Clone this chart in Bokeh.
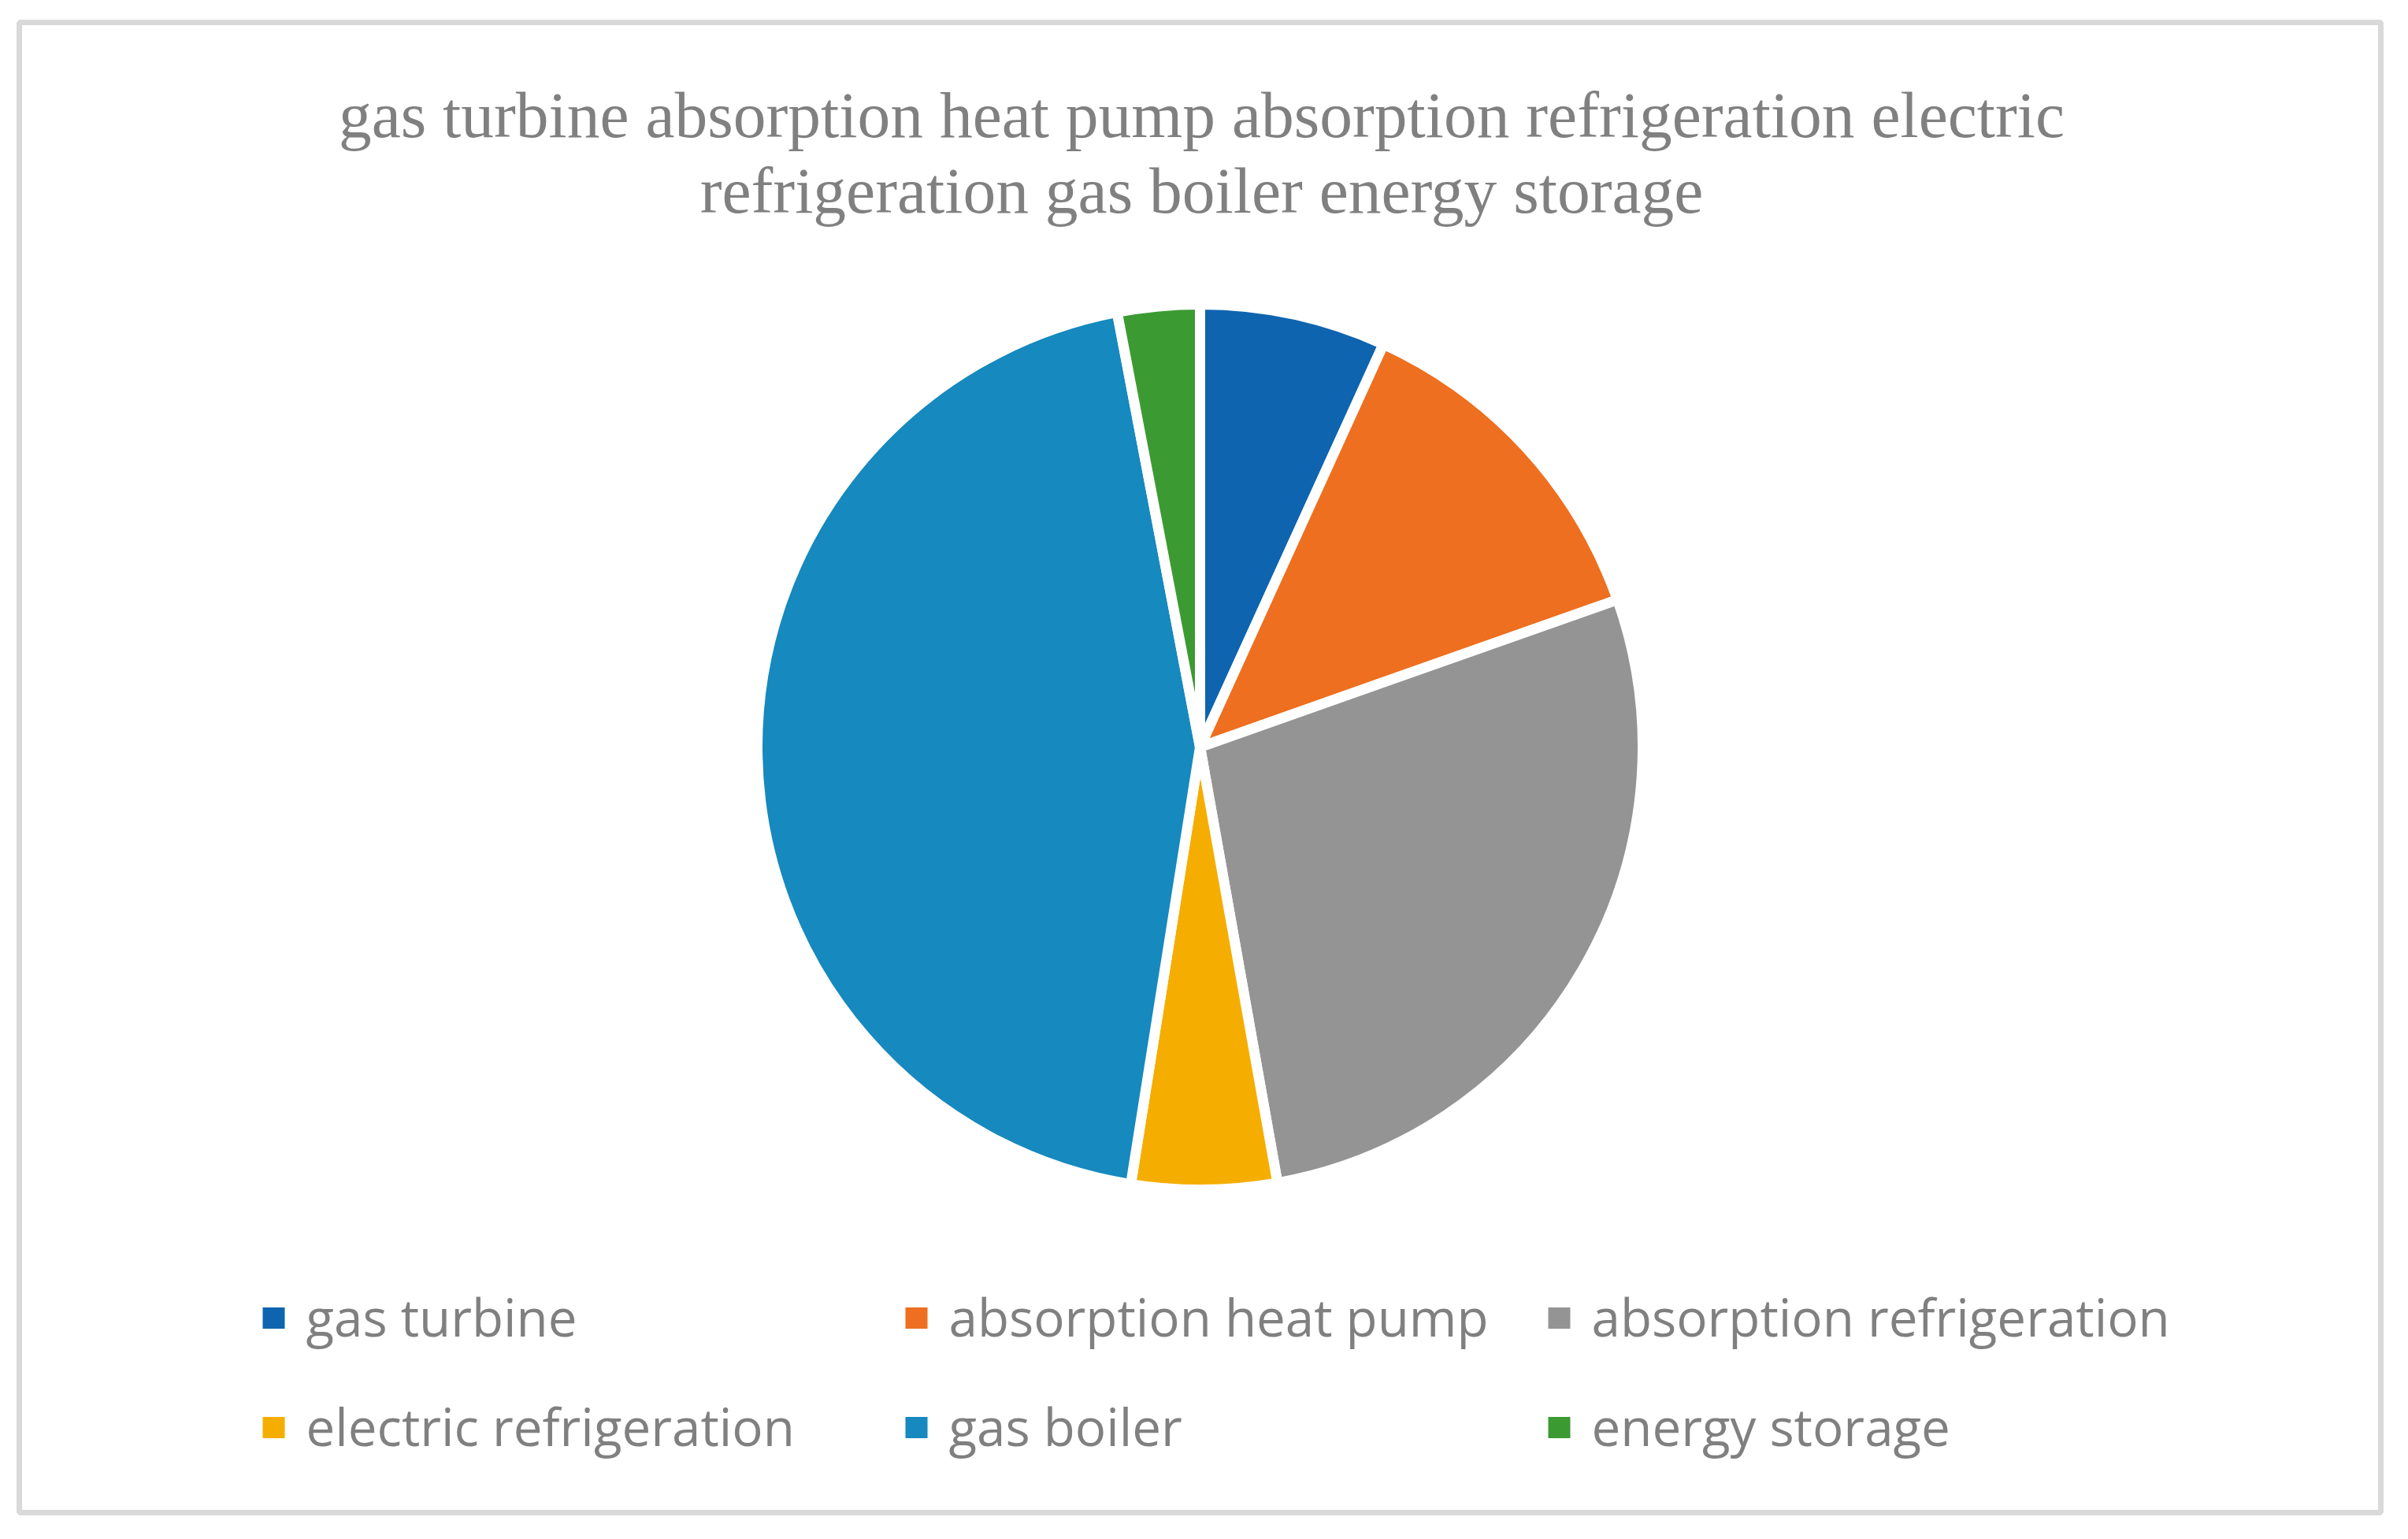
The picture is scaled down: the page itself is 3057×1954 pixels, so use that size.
import math
from bokeh.plotting import figure
from bokeh.models import ColumnDataSource, Range1d
from bokeh.core.properties import value
from bokeh.embed import file_html
from bokeh.resources import INLINE

# ---- data ----
categories = ["gas turbine", "absorption heat pump", "absorption refrigeration",
              "electric refrigeration", "gas boiler", "energy storage"]
shares = [6.8, 12.8, 27.6, 5.3, 44.5, 3.0]
colors = ["#0F64AF", "#EE6F1F", "#949494", "#F5AD00", "#1689BE", "#3C9A33"]

# ---- layout (page pixel coordinates) ----
PAGE_H = 1954
def Y(py):
    return PAGE_H - py

FRAME_L, FRAME_R, FRAME_T, FRAME_B = 24, 3022, 28, 1920
CX, CY, R = 1523, 948, 562
TEXT_GRAY = "#808080"
BASE_FIX_TITLE = 22   # svg baseline correction
BASE_FIX_LEG = 23

p = figure(frame_width=FRAME_R - FRAME_L, frame_height=FRAME_B - FRAME_T,
           min_border_left=24, min_border_right=16, min_border_top=28, min_border_bottom=16,
           x_range=Range1d(FRAME_L, FRAME_R), y_range=Range1d(Y(FRAME_B), Y(FRAME_T)),
           x_axis_location=None, y_axis_location=None,
           toolbar_location=None, output_backend="svg", tools="")
p.grid.visible = False
p.outline_line_color = "#D9D9D9"
p.outline_line_width = 7
p.background_fill_color = "white"
p.border_fill_color = "white"

# ---- pie ----
total = sum(shares)
starts, ends = [], []
acc = 0.0
for s in shares:
    starts.append(math.pi / 2 - 2 * math.pi * acc / total)
    acc += s
    ends.append(math.pi / 2 - 2 * math.pi * acc / total)

src = ColumnDataSource(dict(cat=categories, share=shares, color=colors,
                            start=starts, end=ends,
                            x=[CX] * len(shares), y=[Y(CY)] * len(shares)))
p.wedge(x="x", y="y", radius=R, radius_units="screen",
        start_angle="start", end_angle="end", direction="clock",
        fill_color="color", line_color="white", line_width=13, source=src)

# ---- title ----
words = " ".join(categories).split()
title_lines = [" ".join(words[:8]), " ".join(words[8:])]
tsrc = ColumnDataSource(dict(t=title_lines, x=[1525, 1525],
                             y=[Y(167 - BASE_FIX_TITLE), Y(263 - BASE_FIX_TITLE)]))
p.text(x="x", y="y", text="t", source=tsrc, text_align="center",
       text_baseline="alphabetic", text_font=value("Liberation Serif"),
       text_font_size="83.5px", text_color=TEXT_GRAY)

# ---- legend (3 columns x 2 rows) ----
LX0, LSTRIDE_X, LY0, LSTRIDE_Y = 333, 816, 1673, 139
sq_x, sq_y, tx, ty = [], [], [], []
for i, c in enumerate(categories):
    col, row = i % 3, i // 3
    left = LX0 + col * LSTRIDE_X
    cy = LY0 + row * LSTRIDE_Y
    sq_x.append(left + 14)
    sq_y.append(Y(cy))
    tx.append(left + 55)
    ty.append(Y(cy + 21 - BASE_FIX_LEG))
lsrc = ColumnDataSource(dict(x=sq_x, y=sq_y, color=colors, tx=tx, ty=ty, label=categories))
p.rect(x="x", y="y", width=28, height=27, width_units="screen", height_units="screen",
       fill_color="color", line_color=None, source=lsrc)
p.text(x="tx", y="ty", text="label", source=lsrc, text_align="left",
       text_baseline="alphabetic", text_font=value("Open Sans"),
       text_font_size="65.5px", text_color=TEXT_GRAY)

open("out.html", "w").write(file_html(p, INLINE))
